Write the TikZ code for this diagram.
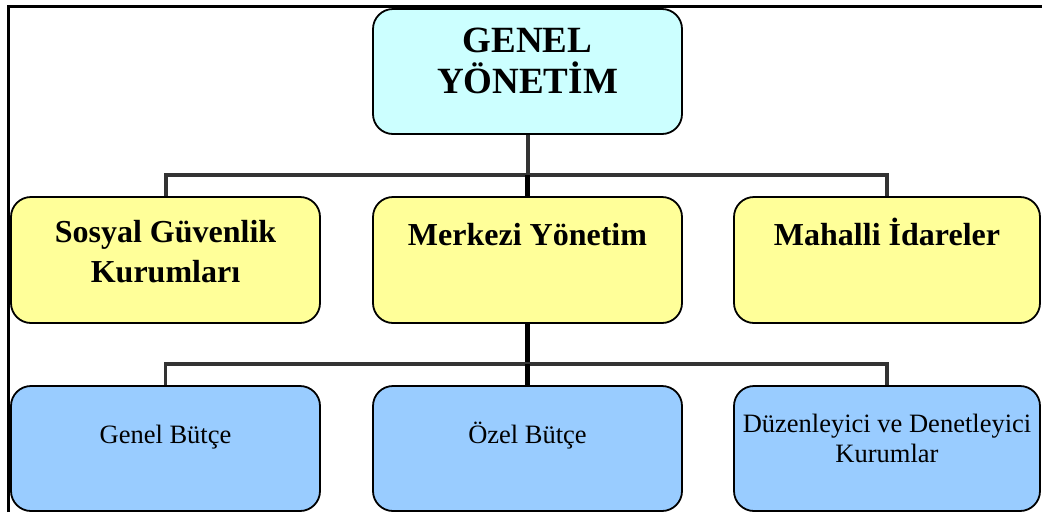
\documentclass[tikz,border=0pt]{standalone}
\usepackage{fontspec}
\setmainfont{Liberation Serif}
\usetikzlibrary{positioning}

\definecolor{acikmavi}{HTML}{CCFFFF}
\definecolor{sari}{HTML}{FFFF99}
\definecolor{mavi}{HTML}{99CCFF}
\definecolor{koyugri}{HTML}{333333}

\begin{document}
\begin{tikzpicture}[x=1pt,y=-1pt,
	kutu/.style={draw=black, line width=1.8pt, rounded corners=20pt, inner sep=0pt,
		minimum width=309pt, minimum height=125pt},
	baslik/.style={font=\fontsize{37}{41}\selectfont\bfseries, align=center, anchor=base},
	orta/.style={font=\fontsize{32}{40}\selectfont\bfseries, align=center, anchor=base},
	alt/.style={font=\fontsize{26.5}{30}\selectfont, align=center, anchor=base},
	baglanti/.style={draw=koyugri, line width=4pt},
	govde/.style={draw=black, line width=5pt}]
	\useasboundingbox (0,0) rectangle (1042,512);
	% cerceve
	\draw[line width=3pt] (8.5,512) -- (8.5,6.5) -- (1042,6.5);
	% kutular
	\path (527.5,71.5) node (genel) [kutu, fill=acikmavi] {}
		  (165.5,260) node (sgk) [kutu, fill=sari, minimum height=126pt] {}
		  (527.5,260) node (merkezi) [kutu, fill=sari, minimum height=126pt] {}
		  (887,260) node (mahalli) [kutu, fill=sari, minimum width=306pt, minimum height=126pt] {}
		  (165.5,448.5) node (genelb) [kutu, fill=mavi] {}
		  (527.5,448.5) node (ozelb) [kutu, fill=mavi] {}
		  (887,448.5) node (denetim) [kutu, fill=mavi, minimum width=306pt] {};
	% yazilar (son satirin tabani)
	\node (genelt) [baslik] at (527.5,93) {GENEL\\YÖNETİM};
	\node (sgkt) [orta] at (165.5,282) {Sosyal Güvenlik\\Kurumları};
	\node (merkezit) [orta] at (527.5,245) {Merkezi Yönetim};
	\node (mahallit) [orta] at (887,245) {Mahalli İdareler};
	\node (genelbt) [alt] at (165.5,443) {Genel Bütçe};
	\node (ozelbt) [alt] at (527.5,443) {Özel Bütçe};
	\node (denetimt) [alt] at (887,462) {Düzenleyici ve Denetleyici\\Kurumlar};
	% baglantilar
	\coordinate (ust) at (527.5,175);
	\coordinate (asagi) at (527.5,364);
	\draw[baglanti] (genel.south) -- (ust);
	\draw[baglanti] (sgk.north) |- (ust) -| (mahalli.north);
	\draw[govde] (ust) -- (merkezi.north);
	\draw[govde] (merkezi.south) -- (asagi);
	\draw[baglanti, line width=3.5pt] (genelb.north) |- (asagi) -| (denetim.north);
	\draw[govde] (asagi) -- (ozelb.north);
\end{tikzpicture}
\end{document}
